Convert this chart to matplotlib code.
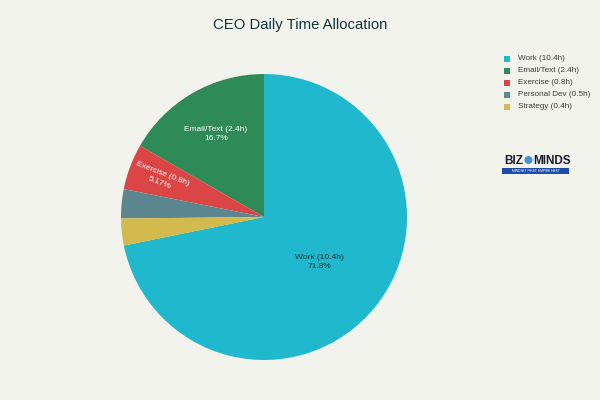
import numpy as np
import matplotlib.pyplot as plt
from matplotlib.patches import Rectangle, Ellipse

# data
labels = ['Work (10.4h)', 'Email/Text (2.4h)', 'Exercise (0.8h)', 'Personal Dev (0.5h)', 'Strategy (0.4h)']
shares = [71.8, 16.7, 5.17, 3.3, 3.03]
colors = ['#1FB8CD', '#2E8B57', '#DB4545', '#5D878F', '#D2BA4C']
pct_text = ['71.8%', '16.7%', '5.17%', '', '']

bg = '#F3F3EE'
fig = plt.figure(figsize=(6, 4), dpi=100, facecolor=bg)

# pie centred at (264, 217) px, radius 143 px
ax = fig.add_axes([121 / 600, 40 / 400, 286 / 600, 286 / 400])
ax.set_facecolor(bg)
start = 90 - 360 * shares[0] / sum(shares)
wedges, _ = ax.pie(shares, colors=colors, startangle=start, counterclock=True,
                   radius=1.0, wedgeprops=dict(linewidth=0))
ax.set_xlim(-1, 1)
ax.set_ylim(-1, 1)
ax.set_aspect('equal')
ax.axis('off')

# inside labels
label_pos = {0: (0.5, '#13343B', 0), 1: (0.67, 'white', 0), 2: (0.77, 'white', -21)}
for i, (r, col, rot) in label_pos.items():
    w = wedges[i]
    mid = np.deg2rad((w.theta1 + w.theta2) / 2)
    if i == 0:
        mid = np.deg2rad(-39)
    ax.text(r * np.cos(mid), r * np.sin(mid), labels[i] + '\n' + pct_text[i],
            ha='center', va='center', fontsize=6.0, color=col, rotation=rot,
            linespacing=1.35, family='Liberation Sans')

fig.text(0.5, 1 - 25 / 400, 'CEO Daily Time Allocation', ha='center', va='center',
         fontsize=10.7, color='#13343B', family='Liberation Sans')

# legend
for i, (lab, c) in enumerate(zip(labels, colors)):
    y = 1 - (59 + i * 11.9) / 400
    fig.patches.append(Rectangle((504 / 600, y - 3 / 400), 6 / 600, 6 / 400,
                                 transform=fig.transFigure, facecolor=c, edgecolor='none'))
    fig.text(518 / 600, y, lab, ha='left', va='center', fontsize=5.9,
             color='#3A3A3A', family='Liberation Sans')

# logo
fig.text(514 / 600, 1 - 161 / 400, 'BIZ', ha='center', va='center', fontsize=8.5,
         fontweight='bold', color='#1B1B2F', family='Liberation Sans')
fig.patches.append(Ellipse((528.5 / 600, 1 - 160 / 400), 8 / 600, 8 / 400, transform=fig.transFigure,
                           facecolor='#4A90D9', edgecolor='none'))
fig.text(552 / 600, 1 - 161 / 400, 'MINDS', ha='center', va='center', fontsize=8.5,
         fontweight='bold', color='#1B1B2F', family='Liberation Sans')
fig.patches.append(Rectangle((502 / 600, 1 - 174 / 400), 67 / 600, 6 / 400,
                             transform=fig.transFigure, facecolor='#1E4DA8', edgecolor='none'))
fig.text(535.5 / 600, 1 - 171 / 400, 'MINDSET FIRST, EMPIRE NEXT', ha='center', va='center',
         fontsize=2.3, color='white', family='Liberation Sans')

fig.savefig('out.png', dpi=100, facecolor=bg)
